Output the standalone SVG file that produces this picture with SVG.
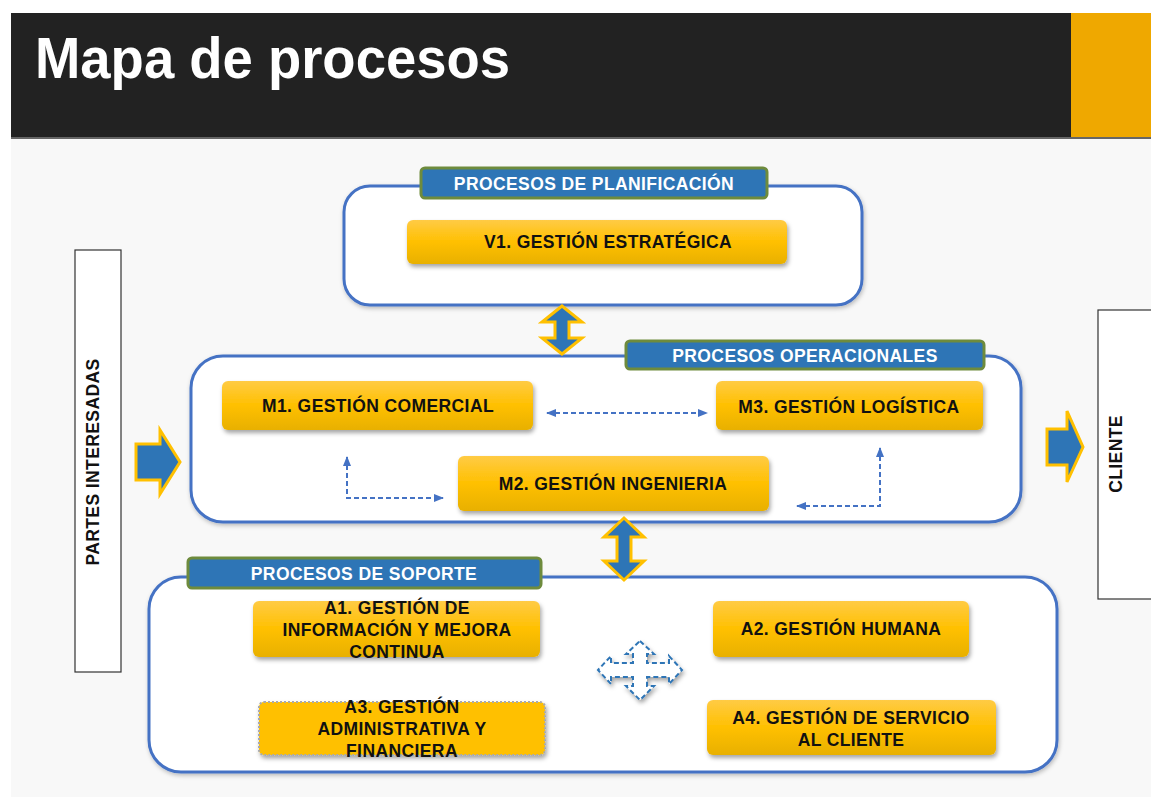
<svg xmlns="http://www.w3.org/2000/svg" width="1151" height="797" viewBox="0 0 1151 797">
<defs>
<linearGradient id="gold" x1="0" y1="0" x2="0" y2="1">
<stop offset="0" stop-color="#FFCB45"/>
<stop offset="0.5" stop-color="#FFC000"/>
<stop offset="1" stop-color="#E8B000"/>
</linearGradient>
<filter id="sh" x="-10%" y="-20%" width="125%" height="150%">
<feDropShadow dx="1.5" dy="3" stdDeviation="2" flood-color="#000" flood-opacity="0.35"/>
</filter>
<filter id="sh2" x="-10%" y="-10%" width="120%" height="130%">
<feDropShadow dx="1" dy="2" stdDeviation="2" flood-color="#000" flood-opacity="0.25"/>
</filter>
<marker id="ah" viewBox="0 0 10 10" refX="9" refY="5" markerWidth="5" markerHeight="5" orient="auto-start-reverse" markerUnits="strokeWidth">
<path d="M0,1 L10,5 L0,9 z" fill="#4472C4"/>
</marker>
</defs>
<style>
.cont{fill:#fff;stroke:#4472C4;stroke-width:3}
.lbl{fill:#2E75B6;stroke:#6E8B3D;stroke-width:3}
.lt{font-family:"Liberation Sans",Arial,sans-serif;font-weight:bold;font-size:17.5px;letter-spacing:0.4px;fill:#fff;text-anchor:middle;dominant-baseline:central}
.box{fill:url(#gold);filter:url(#sh)}
.bt{font-family:"Liberation Sans",Arial,sans-serif;font-weight:bold;font-size:17.5px;letter-spacing:0.4px;fill:#111;text-anchor:middle;dominant-baseline:central}
.big{fill:#2E75B6;stroke:#FFC000;stroke-width:3;stroke-linejoin:miter}
.dash{fill:none;stroke:#4472C4;stroke-width:2;stroke-dasharray:5 3}
.side{fill:#fff;stroke:#333;stroke-width:1.2}
</style>
<rect x="0" y="0" width="1151" height="797" fill="#fff"/>
<rect x="11" y="139" width="1140" height="658" fill="#F8F8F8"/>
<g id="header">
<rect x="11" y="13" width="1060" height="126" fill="#222"/>
<rect x="1071" y="13" width="80" height="126" fill="#EFA800"/>
<rect x="11" y="137" width="1140" height="2" fill="#666"/>
<text x="35" y="78" font-family="'Liberation Sans',Arial,sans-serif" font-weight="bold" font-size="57" fill="#fff" textLength="475" lengthAdjust="spacingAndGlyphs">Mapa de procesos</text>
</g>
<g id="partes">
<rect class="side" x="75" y="250" width="46" height="422"/>
<text class="bt" transform="translate(93,462) rotate(-90)">PARTES INTERESADAS</text>
</g>
<g id="cliente">
<rect class="side" x="1098" y="310" width="60" height="289"/>
<text class="bt" transform="translate(1116,454) rotate(-90)">CLIENTE</text>
</g>
<g id="planificacion">
<rect class="cont" x="344" y="186" width="518" height="119" rx="26" filter="url(#sh2)"/>
<rect class="lbl" x="421" y="168" width="346" height="30" rx="4"/>
<text class="lt" x="594" y="184">PROCESOS DE PLANIFICACIÓN</text>
</g>
<g id="v1">
<rect class="box" x="407" y="220" width="380" height="44" rx="6"/>
<text class="bt" x="608" y="242">V1. GESTIÓN ESTRATÉGICA</text>
</g>
<g id="operacionales">
<rect class="cont" x="191" y="356" width="830" height="166" rx="32" filter="url(#sh2)"/>
<rect class="lbl" x="626" y="341" width="358" height="28" rx="4"/>
<text class="lt" x="805" y="356">PROCESOS OPERACIONALES</text>
</g>
<g id="m1">
<rect class="box" x="222" y="381" width="311" height="49" rx="6"/>
<text class="bt" x="378" y="406">M1. GESTIÓN COMERCIAL</text>
</g>
<g id="m3">
<rect class="box" x="716" y="381" width="267" height="49" rx="6"/>
<text class="bt" x="849" y="407">M3. GESTIÓN LOGÍSTICA</text>
</g>
<g id="m2">
<rect class="box" x="458" y="456" width="311" height="55" rx="6"/>
<text class="bt" x="613" y="484">M2. GESTIÓN INGENIERIA</text>
</g>
<g id="soporte">
<rect class="cont" x="149" y="577" width="908" height="195" rx="32" filter="url(#sh2)"/>
<rect class="lbl" x="188" y="558" width="353" height="30" rx="4"/>
<text class="lt" x="364" y="574">PROCESOS DE SOPORTE</text>
</g>
<g id="a1">
<rect class="box" x="253" y="601" width="287" height="56" rx="6"/>
<text class="bt" x="397" y="608">A1. GESTIÓN DE</text>
<text class="bt" x="397" y="630">INFORMACIÓN Y MEJORA</text>
<text class="bt" x="397" y="652">CONTINUA</text>
</g>
<g id="a2">
<rect class="box" x="713" y="601" width="256" height="56" rx="6"/>
<text class="bt" x="841" y="629">A2. GESTIÓN HUMANA</text>
</g>
<g id="a3">
<rect x="259" y="702" width="286" height="53" rx="5" fill="#FFC000" stroke="#AAA" stroke-width="2" stroke-dasharray="2 2" filter="url(#sh)"/>
<text class="bt" x="402" y="707">A3. GESTIÓN</text>
<text class="bt" x="402" y="729">ADMINISTRATIVA Y</text>
<text class="bt" x="402" y="751">FINANCIERA</text>
</g>
<g id="a4">
<rect class="box" x="707" y="700" width="289" height="55" rx="6"/>
<text class="bt" x="851" y="718">A4. GESTIÓN DE SERVICIO</text>
<text class="bt" x="851" y="740">AL CLIENTE</text>
</g>
<g id="connectors">
<polygon class="big" points="562,306 582,322 569,322 569,338 582,338 562,354 542,338 555,338 555,322 542,322"/>
<polygon class="big" points="624,518 644,537 631,537 631,561 644,561 624,580 604,561 617,561 617,537 604,537"/>
<polygon class="big" points="136,444 160,444 160,430 180,462 160,494 160,480 136,480"/>
<polygon class="big" points="1047,429 1067,429 1067,411 1083,447 1067,482 1067,465 1047,465"/>
<line class="dash" x1="547" y1="413" x2="707" y2="413" marker-start="url(#ah)" marker-end="url(#ah)"/>
<polyline class="dash" points="347,457 347,498 443,498" marker-start="url(#ah)" marker-end="url(#ah)"/>
<polyline class="dash" points="880,448 880,506 797,506" marker-start="url(#ah)" marker-end="url(#ah)"/>
<polygon points="640,641 654,654 647,654 647,663 669,663 669,656 682,670 669,684 669,677 647,677 647,686 654,686 640,700 626,686 633,686 633,677 611,677 611,684 598,670 611,656 611,663 633,663 633,654 626,654" fill="#fff" stroke="#2E75B6" stroke-width="2" stroke-dasharray="5 3" filter="url(#sh)"/>
</g>
</svg>
